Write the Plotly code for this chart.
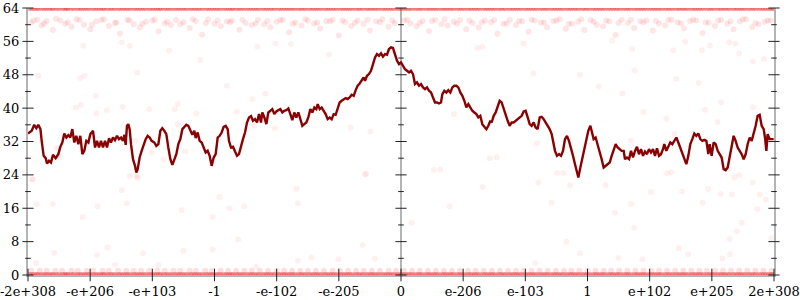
import plotly.graph_objects as go

# ---------------- data ----------------
# x axis: position of a double in bit-ordinal order, scaled so the half-range is 6 units
x_tickvals = [-6, -5, -4, -3, -2, -1, 0, 1, 2, 3, 4, 5, 6]
x_ticktext = ["-2e+308", "-e+206", "-e+103", "-1", "-e-102", "-e-205", "0",
              "e-206", "e-103", "1", "e+102", "e+205", "2e+308"]
y_major = [0, 8, 16, 24, 32, 40, 48, 56, 64]
y_minor = [4, 12, 20, 28, 36, 44, 52, 60]

# moving-average line
line_x = [-6.00, -5.94, -5.90, -5.866, -5.834, -5.80, -5.78, -5.748, -5.716, -5.694, -5.662, -5.63, -5.598, -5.555,
          -5.512, -5.48, -5.448, -5.416, -5.383, -5.351, -5.319, -5.287, -5.255, -5.223, -5.19, -5.158, -5.126,
          -5.094, -5.062, -5.029, -4.997, -4.954, -4.922, -4.89, -4.858, -4.826, -4.794, -4.761, -4.729, -4.697,
          -4.665, -4.633, -4.601, -4.568, -4.536, -4.504, -4.472, -4.45, -4.429, -4.408, -4.386, -4.365, -4.343,
          -4.311, -4.279, -4.257, -4.236, -4.204, -4.172, -4.139, -4.107, -4.075, -4.043, -4.011, -3.968, -3.936,
          -3.903, -3.871, -3.839, -3.807, -3.775, -3.743, -3.71, -3.678, -3.646, -3.614, -3.582, -3.55, -3.517,
          -3.485, -3.453, -3.421, -3.389, -3.357, -3.324, -3.303, -3.271, -3.239, -3.206, -3.174, -3.142, -3.11,
          -3.078, -3.046, -3.013, -2.981, -2.949, -2.917, -2.885, -2.853, -2.82, -2.788, -2.767, -2.735, -2.702,
          -2.67, -2.638, -2.606, -2.574, -2.542, -2.509, -2.477, -2.445, -2.413, -2.381, -2.349, -2.316, -2.284,
          -2.252, -2.231, -2.198, -2.166, -2.134, -2.102, -2.07, -2.038, -2.005, -1.973, -1.941, -1.909, -1.877,
          -1.845, -1.812, -1.78, -1.748, -1.716, -1.684, -1.651, -1.619, -1.587, -1.555, -1.523, -1.491, -1.458,
          -1.426, -1.394, -1.362, -1.34, -1.308, -1.276, -1.244, -1.212, -1.18, -1.147, -1.115, -1.083, -1.051,
          -1.019, -0.987, -0.954, -0.922, -0.89, -0.858, -0.826, -0.794, -0.761, -0.729, -0.697, -0.665, -0.633,
          -0.601, -0.579, -0.547, -0.515, -0.483, -0.45, -0.418, -0.386, -0.354, -0.322, -0.29, -0.257, -0.225,
          -0.193, -0.161, -0.129, -0.097, -0.064, -0.032,
          0.0, 0.032, 0.064, 0.097, 0.129, 0.161, 0.193, 0.225, 0.257, 0.29, 0.322, 0.354, 0.386, 0.418, 0.45,
          0.483, 0.515, 0.547, 0.579, 0.611, 0.643, 0.665, 0.697, 0.729, 0.761, 0.794, 0.826, 0.858, 0.89, 0.922,
          0.954, 0.987, 1.019, 1.051, 1.083, 1.115, 1.147, 1.18, 1.212, 1.244, 1.276, 1.308, 1.34, 1.373, 1.405,
          1.437, 1.458, 1.491, 1.523, 1.555, 1.587, 1.619, 1.651, 1.684, 1.716, 1.748, 1.78, 1.812, 1.845, 1.877,
          1.909, 1.941, 1.973, 2.005, 2.038, 2.07, 2.102, 2.134, 2.166, 2.198, 2.231, 2.263, 2.295, 2.327, 2.359,
          2.391, 2.424, 2.456, 2.477, 2.509, 2.542, 2.574, 2.606, 2.638, 2.67, 2.702, 2.735, 2.767, 2.799, 2.831,
          2.853, 2.885, 2.917, 2.949, 2.981, 3.013, 3.046, 3.067, 3.099, 3.131, 3.164, 3.196, 3.228, 3.26, 3.292,
          3.324, 3.357, 3.389, 3.421, 3.453, 3.485, 3.517, 3.55, 3.582, 3.603, 3.635, 3.668, 3.7, 3.732, 3.764,
          3.796, 3.828, 3.861, 3.893, 3.925, 3.957, 3.989, 4.021, 4.054, 4.086, 4.118, 4.15, 4.182, 4.214, 4.236,
          4.268, 4.3, 4.332, 4.365, 4.397, 4.429, 4.461, 4.493, 4.525, 4.558, 4.59, 4.622, 4.654, 4.686, 4.718,
          4.751, 4.783, 4.815, 4.847, 4.879, 4.912, 4.944, 4.965, 4.997, 5.029, 5.062, 5.094, 5.126, 5.158, 5.19,
          5.223, 5.255, 5.287, 5.319, 5.351, 5.383, 5.416, 5.448, 5.48, 5.512, 5.544, 5.576, 5.609, 5.641, 5.673,
          5.705, 5.737, 5.769, 5.802, 5.834, 5.855, 5.877, 5.898, 5.93, 5.995]
line_y = [33.92, 34.56, 36.0, 35.2, 36.0, 34.96, 32.16, 28.56, 28.0, 26.72, 27.36, 26.96, 28.8, 28.0,
          28.96, 30.72, 31.76, 33.92, 32.96, 33.52, 32.96, 34.96, 31.76, 33.36, 31.36, 33.36, 28.96,
          29.76, 32.16, 31.76, 33.76, 34.56, 30.56, 32.16, 30.56, 32.16, 30.56, 32.16, 30.56, 32.8,
          31.76, 32.96, 32.32, 33.36, 32.56, 32.96, 32.16, 33.6, 31.2, 35.76, 36.16, 34.96, 31.36,
          27.76, 26.16, 24.56, 25.36, 28.16, 29.76, 31.36, 32.56, 33.36, 32.96, 32.16, 31.76, 30.96,
          31.36, 34.56, 35.2, 34.56, 33.76, 30.56, 27.76, 26.4, 27.76, 28.96, 31.36, 32.56, 34.96,
          35.52, 36.0, 35.76, 34.56, 33.6, 34.56, 32.8, 34.16, 32.16, 31.76, 30.56, 29.36, 29.76,
          28.56, 26.16, 28.16, 28.96, 32.96, 33.36, 34.16, 35.52, 35.76, 34.96, 32.16, 30.56, 30.72,
          29.6, 28.56, 28.96, 30.96, 32.56, 34.16, 36.56, 37.76, 38.08, 36.96, 37.36, 36.56, 38.56,
          36.56, 38.96, 37.76, 36.16, 38.96, 39.36, 39.76, 38.56, 39.2, 39.52, 39.76, 38.96, 39.36,
          39.52, 39.92, 38.56, 37.12, 38.96, 37.76, 38.96, 37.36, 35.76, 36.16, 36.56, 37.76, 39.76,
          38.96, 40.16, 39.76, 40.96, 39.76, 40.16, 39.36, 38.56, 37.36, 37.76, 37.36, 38.56, 38.4,
          40.16, 41.36, 41.76, 42.16, 42.4, 42.16, 42.56, 43.2, 42.96, 44.32, 45.36, 45.92, 46.56,
          47.36, 46.56, 47.76, 48.16, 48.96, 50.56, 52.16, 52.96, 52.56, 53.12, 52.32, 52.96, 52.8,
          54.16, 54.56, 54.4, 52.96, 51.36, 50.56,
          50.96, 50.16, 49.36, 48.96, 48.56, 48.96, 48.16, 45.76, 46.16, 45.36, 45.76, 44.96, 44.56, 44.96, 44.16,
          43.76, 42.56, 41.36, 41.36, 41.12, 41.36, 43.36, 44.16, 43.76, 44.32, 43.76, 44.96, 45.36, 45.36, 44.96,
          43.76, 42.96, 41.76, 40.16, 40.96, 40.16, 39.36, 38.96, 38.56, 37.76, 38.16, 36.16, 35.52, 34.96, 35.76,
          36.96, 36.56, 38.16, 38.96, 40.56, 41.76, 41.36, 39.76, 38.16, 36.96, 35.76, 36.56, 36.56, 36.96, 37.36,
          37.76, 38.16, 39.2, 39.36, 37.76, 36.16, 35.76, 36.56, 35.36, 34.96, 37.76, 37.92, 37.36, 36.56, 35.76,
          34.96, 33.76, 31.76, 29.76, 28.56, 28.96, 28.56, 29.76, 32.56, 33.36, 32.16, 30.56, 28.56, 26.56, 24.56,
          23.36, 25.76, 28.16, 29.76, 32.96, 34.56, 35.76, 34.16, 32.56, 32.96, 31.36, 29.76, 27.76, 25.76, 26.16,
          26.56, 26.96, 28.56, 30.16, 31.36, 30.56, 30.16, 29.76, 29.76, 27.76, 28.16, 27.76, 29.76, 28.16, 29.76,
          30.72, 28.96, 30.16, 28.56, 29.6, 28.96, 30.16, 29.36, 30.16, 28.56, 30.4, 28.56, 28.96, 30.16, 31.36,
          29.76, 30.72, 31.76, 31.36, 32.16, 32.96, 31.76, 30.56, 29.36, 28.16, 26.56, 28.56, 31.36, 32.56, 33.92,
          33.36, 33.92, 32.56, 32.16, 32.4, 32.16, 28.96, 31.36, 28.56, 31.76, 31.36, 29.76, 28.96, 28.16, 25.36,
          25.12, 25.76, 28.56, 31.36, 33.36, 32.16, 30.56, 29.76, 28.96, 27.76, 28.96, 31.36, 32.96, 32.16, 33.76,
          35.76, 38.16, 38.4, 35.76, 34.96, 32.96, 29.76, 33.76, 32.56, 32.56]

# raw samples: dense rows at 64 and 0 (same x positions), row at 1, cluster near 60, scattered rest
edge_x = [-5.98, -5.9, -5.83, -5.74, -5.66, -5.59, -5.5, -5.41, -5.35, -5.26, -5.17, -5.09, -5.01, -4.92,
          -4.84, -4.77, -4.68, -4.6, -4.51, -4.43, -4.35, -4.26, -4.18, -4.1, -4.01, -3.93, -3.86, -3.77,
          -3.69, -3.6, -3.52, -3.44, -3.35, -3.27, -3.19, -3.1, -3.02, -2.94, -2.85, -2.77, -2.7, -2.61,
          -2.53, -2.44, -2.36, -2.28, -2.19, -2.11, -2.03, -1.94, -1.86, -1.78, -1.7, -1.61, -1.53, -1.44,
          -1.36, -1.28, -1.19, -1.11, -1.03, -0.94, -0.86, -0.78, -0.69, -0.61, -0.52, -0.44, -0.36, -0.27,
          -0.19, -0.11, -0.02, 0.06, 0.14, 0.23, 0.31, 0.4, 0.48, 0.56, 0.65, 0.73, 0.81, 0.9, 0.98, 1.07,
          1.15, 1.23, 1.32, 1.4, 1.48, 1.57, 1.65, 1.74, 1.82, 1.9, 1.99, 2.07, 2.15, 2.24, 2.32, 2.41, 2.49,
          2.57, 2.66, 2.74, 2.82, 2.91, 2.99, 3.08, 3.16, 3.24, 3.33, 3.41, 3.49, 3.58, 3.66, 3.75, 3.83,
          3.91, 4.0, 4.08, 4.16, 4.25, 4.33, 4.42, 4.5, 4.58, 4.67, 4.75, 4.83, 4.92, 5.0, 5.09, 5.17, 5.25,
          5.34, 5.42, 5.5, 5.59, 5.67, 5.76, 5.84, 5.92, 5.99]
edge2_x = [-5.94, -5.86, -5.78, -5.7, -5.62, -5.54, -5.45, -5.38, -5.3, -5.21, -5.13, -5.05, -4.96, -4.88,
           -4.8, -4.72, -4.64, -4.55, -4.47, -4.39, -4.3, -4.22, -4.14, -4.05, -3.97, -3.89, -3.81, -3.73,
           -3.64, -3.56, -3.48, -3.39, -3.31, -3.23, -3.14, -3.06, -2.98, -2.9, -2.81, -2.73, -2.65, -2.57,
           -2.48, -2.4, -2.32, -2.23, -2.15, -2.07, -1.98, -1.9, -1.82, -1.74, -1.65, -1.57, -1.48, -1.4,
           -1.32, -1.23, -1.15, -1.07, -0.98, -0.9, -0.82, -0.73, -0.65, -0.56, -0.48, -0.4, -0.31, -0.23,
           -0.15, -0.06, 0.02, 0.1, 0.18, 0.27, 0.35, 0.44, 0.52, 0.6, 0.69, 0.77, 0.85, 0.94, 1.02, 1.11,
           1.19, 1.27, 1.36, 1.44, 1.52, 1.61, 1.69, 1.78, 1.86, 1.94, 2.03, 2.11, 2.19, 2.28, 2.36, 2.45,
           2.53, 2.61, 2.7, 2.78, 2.86, 2.95, 3.03, 3.12, 3.2, 3.28, 3.37, 3.45, 3.53, 3.62, 3.7, 3.79, 3.87,
           3.95, 4.04, 4.12, 4.2, 4.29, 4.37, 4.46, 4.54, 4.62, 4.71, 4.79, 4.87, 4.96, 5.04, 5.13, 5.21,
           5.29, 5.38, 5.46, 5.54, 5.63, 5.71, 5.8, 5.88, 5.96]
row1_x = [-5.95, -5.81, -5.7, -5.56, -5.45, -5.3, -5.2, -5.05, -4.95, -4.8, -4.7, -4.55, -4.42, -4.3, -4.18,
          -4.05, -3.92, -3.8, -3.66, -3.55, -3.4, -3.3, -3.15, -3.04, -2.9, -2.78, -2.65, -2.52, -2.4, -2.27,
          -2.14, -2.0, -1.88, -1.75, -1.62, -1.5, -1.37, -1.24, -1.1, -0.98, -0.85, -0.72, -0.6, -0.47, -0.34,
          -0.2, -0.08, 0.05, 0.18, 0.3, 0.43, 0.56, 0.69, 0.82, 0.95, 1.08, 1.2, 1.33, 1.46, 1.59, 1.72, 1.85,
          1.97, 2.1, 2.23, 2.36, 2.49, 2.62, 2.74, 2.87, 3.0, 3.13, 3.26, 3.38, 3.51, 3.64, 3.77, 3.9, 4.03,
          4.15, 4.28, 4.41, 4.54, 4.67, 4.8, 4.92, 5.05, 5.18, 5.31, 5.44, 5.57, 5.7, 5.83, 5.96]
up_x = [-5.95, -5.85, -5.78, -5.7, -5.6, -5.48, -5.4, -5.3, -5.22, -5.1, -5.0, -4.9, -4.82, -4.7, -4.6,
        -4.52, -4.4, -4.3, -4.2, -4.1, -4.0, -3.9, -3.8, -3.7, -3.62, -3.5, -3.4, -3.3, -3.2, -3.1, -3.0,
        -2.9, -2.8, -2.72, -2.6, -2.5, -2.4, -2.3, -2.2, -2.1, -2.0, -1.9, -1.8, -1.7, -1.6, -1.5, -1.4,
        -1.3, -1.2, -1.1, -1.0, -0.9, -0.8, -0.7, -0.6, -0.5, -0.4, -0.3, -0.2, -0.1, 0.05, 0.15, 0.25,
        0.35, 0.45, 0.55, 0.65, 0.75, 0.85, 0.95, 1.05, 1.15, 1.25, 1.35, 1.45, 1.55, 1.65, 1.75, 1.85,
        1.95, 2.05, 2.15, 2.25, 2.35, 2.45, 2.55, 2.65, 2.75, 2.85, 2.95, 3.05, 3.15, 3.25, 3.35, 3.45,
        3.55, 3.65, 3.75, 3.85, 3.95, 4.05, 4.15, 4.25, 4.35, 4.45, 4.55, 4.65, 4.75, 4.85, 4.95, 5.05,
        5.15, 5.25, 5.35, 5.45, 5.55, 5.65, 5.75, 5.85, 5.95]
up_y = [60.5, 61.2, 59.8, 60.9, 58.7, 61.0, 60.2, 59.5, 61.3, 60.0, 58.9, 60.8, 61.1, 59.7, 60.4,
        57.9, 61.2, 60.1, 59.3, 60.7, 61.0, 58.4, 60.3, 59.9, 61.1, 60.6, 59.2, 60.9, 57.6, 61.3, 60.2,
        59.6, 60.8, 61.0, 58.8, 60.4, 59.9, 61.2, 60.1, 59.4, 60.7, 61.1, 58.2, 60.5, 59.8, 61.0, 60.3,
        59.1, 60.9, 61.2, 57.4, 60.6, 59.7, 61.0, 60.2, 58.6, 60.8, 61.3, 59.5, 60.4, 61.0, 60.3, 59.6,
        60.9, 58.5, 61.2, 60.1, 59.8, 60.7, 61.1, 58.9, 60.4, 59.3, 61.0, 60.6, 57.8, 60.2, 61.2, 59.9,
        60.8, 58.3, 61.0, 60.5, 59.4, 60.9, 61.3, 59.0, 60.2, 60.7, 58.7, 61.1, 60.0, 59.6, 60.8, 57.5,
        61.2, 60.4, 59.2, 60.9, 61.0, 58.6, 60.3, 59.8, 61.2, 60.6, 59.1, 60.9, 61.0, 58.0, 60.5, 59.7,
        61.1, 60.2, 58.9, 60.8, 61.3, 59.4, 60.1, 60.7, 61.0]
# second layer of the cluster near 60 (values 59-62)
up2_x = [-5.91, -5.74, -5.55, -5.36, -5.17, -4.97, -4.78, -4.58, -4.37, -4.16, -3.96, -3.76, -3.55,
         -3.35, -3.14, -2.95, -2.75, -2.55, -2.34, -2.15, -1.94, -1.74, -1.54, -1.35, -1.14, -0.94,
         -0.74, -0.54, -0.34, -0.14, 0.1, 0.3, 0.5, 0.7, 0.9, 1.1, 1.3, 1.5, 1.7, 1.9, 2.1, 2.3, 2.5,
         2.7, 2.9, 3.1, 3.3, 3.5, 3.7, 3.9, 4.1, 4.3, 4.5, 4.7, 4.9, 5.1, 5.3, 5.5, 5.7, 5.9]
up2_y = [61.0, 60.3, 61.4, 60.6, 61.1, 60.0, 61.3, 60.5, 61.0, 60.2, 61.2, 60.7, 60.1, 61.3, 60.4,
         61.0, 60.6, 61.2, 60.3, 60.9, 61.1, 60.2, 61.3, 60.5, 60.8, 61.0, 60.4, 61.2, 60.6, 61.0,
         61.2, 60.4, 60.9, 61.3, 60.2, 61.0, 60.6, 61.1, 60.3, 60.9, 61.2, 60.5, 61.0, 60.2, 61.3,
         60.7, 61.0, 60.4, 61.2, 60.6, 60.9, 61.1, 60.3, 61.2, 60.5, 61.0, 60.8, 61.3, 60.4, 61.0]
sp_x = [-5.11, -4.49, -4.36, -3.73, -3.23, -2.31, -2.02, -1.77, -1.16, -5.83, -5.16, -5.09, -4.24, -2.80,
        -2.18, -4.91, -2.39, -5.23, -5.15, -4.90, -4.73, -4.48, -4.05, -3.64, -3.59, -3.29, -2.64, -3.59,
        -2.36, -2.03, -0.81, -0.49, -5.54, -5.49, -4.28, -4.01, -3.82, -3.47, -4.36, -4.24, -0.58, -5.94,
        -5.92, -5.86, -5.60, -5.12, -4.88, -4.49, -4.41, -4.25, -3.53, -2.92, -2.76, -2.52, -3.03, -1.68,
        -1.66, -0.56, -5.58, -4.72, -4.89, -4.15, -3.50, -3.03, -2.62, -4.60, -3.90, -2.33, -1.66, -1.44,
        -1.01, -0.62, -0.42, -5.87,
        0.63, 1.54, 0.17, 0.78, 1.31, 2.21, 2.42, 2.61, 2.72, 2.66, 2.88, 3.29, 3.44, 3.50, 3.70, 3.75,
        3.88, 4.02, 4.35, 4.47, 4.52, 4.62, 4.85, 4.94, 5.14, 5.17, 5.29, 5.32, 5.29, 5.40, 5.44, 5.48,
        5.66, 5.73, 5.77, 5.87, 5.96, 2.16, 1.23, 1.31, 1.97, 3.40, 3.72, 4.38, 4.57, 4.84, 4.97, 5.28,
        5.38, 5.44, 5.66, 5.84, 2.13, 2.88, 3.76, 3.18, 3.56, 4.43, 4.79, 5.15, 5.66, 4.89, 3.90, 4.27,
        5.09, 0.85, 4.40, 2.19, 3.70, 1.43, 0.53, 2.51, 4.28, 5.36]
sp_y = [54.96, 55.76, 54.96, 53.76, 51.52, 54.72, 55.52, 55.36, 52.8, 47.76, 47.2, 47.76, 48.56, 45.36,
        43.52, 42.96, 42.16, 40.16, 40.8, 38.72, 39.52, 40.32, 39.76, 39.76, 40.96, 38.72, 39.12, 36.16,
        35.76, 35.2, 35.36, 34.4, 30.4, 28.16, 32.16, 29.36, 27.76, 29.6, 23.76, 23.36, 24.16, 22.96,
        22.9, 17.0, 17.0, 13.9, 16.5, 20.3, 17.2, 23.7, 15.6, 18.7, 16.0, 16.5, 13.9, 20.7,
        17.2, 24.2, 5.3, 6.6, 4.8, 5.2, 5.8, 6.1, 8.5, 2.4, 2.4, 2.0, 3.4, 4.2,
        3.8, 7.2, 3.9, 2.9,
        25.3, 28.2, 12.5, 16.5, 21.1, 22.2, 17.3, 24.5, 21.5, 8.0, 5.2, 21.5, 14.9, 4.1, 17.0, 11.3,
        3.8, 19.9, 24.6, 6.4, 20.0, 5.0, 17.3, 20.6, 19.4, 4.0, 5.0, 19.3, 8.6, 10.5, 23.9, 12.5,
        22.2, 15.8, 19.3, 18.1, 8.8, 2.9, 54.4, 54.7, 55.5, 56.2, 54.2, 53.9, 56.0, 53.9, 55.0, 55.8,
        55.5, 53.1, 51.2, 51.8, 48.3, 48.0, 49.0, 45.2, 43.5, 47.0, 46.0, 41.4, 40.2, 39.6, 39.1, 37.5,
        36.7, 38.6, 33.8, 31.6, 32.2, 28.0, 25.2, 24.4, 24.4, 23.4]

# ---------------- figure ----------------
FONT = "DejaVu Serif"
AXIS_GREY = "#b4b4b4"
TICK = "#222222"

fig = go.Figure()

def pts(xs, ys, color, size=6):
    fig.add_trace(go.Scatter(x=xs, y=ys, mode="markers",
                             marker=dict(color=color, size=size, line=dict(width=0)),
                             hoverinfo="skip", showlegend=False))

pts(sp_x, sp_y, "rgba(255,0,0,0.06)")
pts(up_x, up_y, "rgba(255,0,0,0.1)")
pts(up2_x, up2_y, "rgba(255,0,0,0.1)")
pts(row1_x, [1] * len(row1_x), "rgba(255,0,0,0.12)")
for xs in (edge_x, edge2_x):
    pts(xs, [0] * len(xs), "rgba(230,0,0,0.3)")
    pts(xs, [64] * len(xs), "rgba(230,0,0,0.3)")

fig.add_trace(go.Scatter(x=line_x, y=line_y, mode="lines",
                         line=dict(color="#8b0000", width=2.4),
                         hoverinfo="skip", showlegend=False))

# tick marks crossing the three vertical axes and the bottom axis
def ticks(xs, ys, symbol, size, yaxis="y"):
    fig.add_trace(go.Scatter(x=xs, y=ys, mode="markers", cliponaxis=False, yaxis=yaxis,
                             marker=dict(symbol=symbol, size=size, color=TICK,
                                         line=dict(width=1, color=TICK)),
                             hoverinfo="skip", showlegend=False))

for xv in (x_tickvals[0], 0, x_tickvals[-1]):
    ticks([xv] * len(y_major), y_major, "line-ew", 8, "y2" if xv == x_tickvals[-1] else "y")
    ticks([xv] * len(y_minor), y_minor, "line-ew", 4)
ticks(x_tickvals, [0] * len(x_tickvals), "line-ns", 9)

fig.update_layout(
    width=800, height=300,
    margin=dict(l=28, r=26, t=8, b=25),
    paper_bgcolor="white", plot_bgcolor="white",
    showlegend=False,
    font=dict(family=FONT, size=13, color="black"),
    xaxis=dict(range=[-6, 6], tickvals=x_tickvals, ticktext=x_ticktext, automargin=False,
               ticklabeloverflow="allow",
               showgrid=False, zeroline=True, zerolinecolor=AXIS_GREY, zerolinewidth=2,
               showline=True, linecolor=AXIS_GREY, linewidth=2,
               ticks="outside", ticklen=3, tickcolor="rgba(0,0,0,0)",
               layer="below traces", tickfont=dict(family=FONT, size=13)),
    yaxis=dict(range=[0, 64], tickvals=y_major, ticktext=[str(v) for v in y_major], automargin=False,
               ticklabeloverflow="allow",
               showgrid=False, zeroline=False,
               showline=True, linecolor=AXIS_GREY, linewidth=2,
               ticks="outside", ticklen=4, tickcolor="rgba(0,0,0,0)",
               layer="below traces", tickfont=dict(family=FONT, size=13)),
    yaxis2=dict(range=[0, 64], overlaying="y", side="right", anchor="x", automargin=False,
                showgrid=False, zeroline=False, showticklabels=False,
                showline=True, linecolor=AXIS_GREY, linewidth=2, layer="below traces"),
)

fig.write_html("out.html")
